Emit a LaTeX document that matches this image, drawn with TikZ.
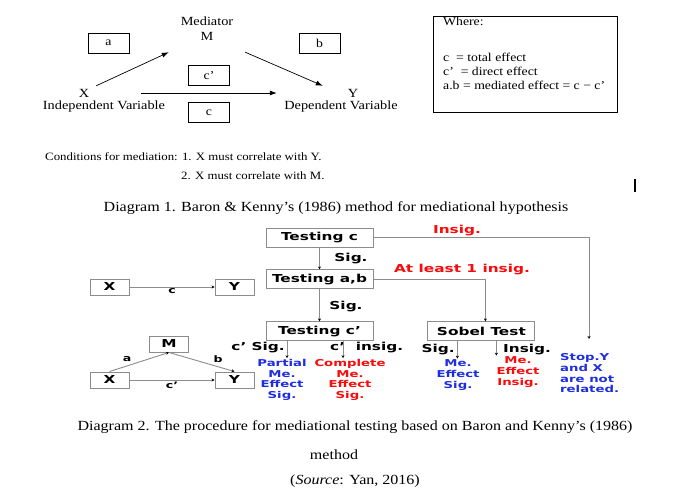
\documentclass[tikz,border=0pt]{standalone}
\usepackage{fontspec}
\setmainfont{Liberation Serif}
\newfontfamily\timesw[FakeStretch=1.15]{Liberation Serif}
\newfontfamily\comic[FakeStretch=1.4]{DejaVu Sans}
\usetikzlibrary{arrows.meta,positioning}
\definecolor{outblue}{RGB}{30,45,225}
\definecolor{outred}{RGB}{250,10,10}

\begin{document}
\begin{tikzpicture}[x=1bp,y=-1bp,
    txt/.style={font=\timesw\fontsize{12.5}{15}\selectfont,inner sep=0pt},
    effbox/.style={draw,line width=0.7bp,minimum width=41bp,minimum height=20bp,inner sep=0pt,
      font=\timesw\fontsize{12}{14}\selectfont},
    arr/.style={line width=0.7bp,-{Latex[length=7bp,width=5bp]}},
    stepbox/.style={draw=black!45,line width=0.9bp,minimum width=107bp,minimum height=19bp,
      inner sep=0pt,font=\comic\bfseries\fontsize{11}{12}\selectfont},
    varbox/.style={draw=black!45,line width=0.9bp,minimum width=39bp,minimum height=16bp,
      inner sep=0pt,font=\comic\bfseries\fontsize{11}{12}\selectfont},
    flow/.style={draw=black!45,line width=0.9bp,-{Stealth[length=3bp,width=3bp,black]}},
    dec/.style={font=\comic\bfseries\fontsize{11}{12}\selectfont,inner sep=0pt},
    lab/.style={font=\comic\bfseries\fontsize{9}{10}\selectfont,inner sep=1.5bp},
    outc/.style={font=\comic\bfseries\fontsize{9.5}{10.7}\selectfont,align=center,inner sep=1bp},
    captxt/.style={font=\timesw\fontsize{14}{16}\selectfont,inner sep=0pt}]

\useasboundingbox[fill=white] (0,0) rectangle (678,500);

% Diagram 1
\node[txt,align=center,minimum width=76bp,minimum height=46bp] (med) at (207,29) {Mediator\\M};
\node[txt,minimum width=24bp,minimum height=14bp] (x) at (84,93) {X};
\node[txt] (xlab) at (104,107) {Independent Variable};
\node[txt,minimum width=24bp,minimum height=14bp] (y) at (353,93) {Y};
\node[txt] (ylab) at (341,107) {Dependent Variable};
\node[effbox] (a) at (108.5,43) {a};
\node[effbox] (b) at (319.5,43.5) {b};
\node[effbox] (cp) at (209,75.5) {c’};
\node[effbox] (c) at (209,112.5) {c};
\draw[arr] (x.north east) -- (med.south west);
\draw[arr] (med.south east) -- ([xshift=-18bp]y.north west);
\draw[arr,shorten <=45bp,shorten >=64bp] (x) -- (y);

\node[draw,line width=0.7bp,minimum width=184bp,minimum height=96bp] (where) at (525,64) {};
\node[txt,font=\timesw\fontsize{12}{14}\selectfont,anchor=west] (wherehd) at (443,21) {Where:};
\node[txt,font=\timesw\fontsize{12}{14}\selectfont,anchor=west,align=left] (wherebody) at (443,71)
  {c~~= total effect\\c’~~= direct effect\\a.b = mediated effect = c − c’};

\node[txt,font=\timesw\fontsize{11.2}{13}\selectfont,anchor=west] (cond1) at (45,157)
  {Conditions for mediation: 1. X must correlate with Y.};
\node[txt,font=\timesw\fontsize{11.2}{13}\selectfont,anchor=west] (cond2) at (181,176)
  {2. X must correlate with M.};
\draw[line width=1.8bp] (635,179) -- (635,192);
\node[captxt] (cap1) at (336,208) {Diagram 1. Baron \& Kenny’s (1986) method for mediational hypothesis};

% Diagram 2
\node[stepbox] (testc) at (319.5,237.5) {Testing c};
\node[stepbox] (testab) [below=22bp of testc] {Testing a,b};
\node[stepbox] (testcp) [below=32bp of testab] {Testing c’};
\node[stepbox] (sobel) [right=54bp of testcp] {Sobel Test};

\node[dec] (sig1) at (351,259) {Sig.};
\node[dec] (sig2) at (346,307) {Sig.};
\node[dec,text=outred] (insig1) at (457,231) {Insig.};
\node[dec,text=outred] (insig2) at (462,270) {At least 1 insig.};
\node[dec,anchor=east] (cpsig) at (285,348) {c’ Sig.};
\node[dec,anchor=west] (cpinsig) at (330,348) {c’\ \ insig.};
\node[dec,anchor=east] (sobsig) at (455,350) {Sig.};
\node[dec,anchor=west] (sobinsig) at (503,350) {Insig.};

\node[outc,text=outblue] (partial) at (282,380) {Partial\\Me.\\Effect\\Sig.};
\node[outc,text=outred] (complete) at (350,380) {Complete\\Me.\\Effect\\Sig.};
\node[outc,text=outblue] (mesig) at (458,375) {Me.\\Effect\\Sig.};
\node[outc,text=outred] (meinsig) at (518,372) {Me.\\Effect\\Insig.};
\node[outc,text=outblue,align=left,anchor=west] (stop) at (559,373.5) {Stop.Y\\and X\\are not\\related.};
\coordinate (stoptip) at (589,339);

\draw[flow] (testc) -- (testab);
\draw[flow] (testab) -- (testcp);
\draw[flow] (testc.east) -| (stoptip);
\draw[flow] (testab.east) -| ([xshift=4bp]sobel.north);
\draw[flow] ([xshift=-32.5bp]testcp.south) -- ([xshift=-32.5bp]testcp.south |- partial.north);
\draw[flow] ([xshift=23.5bp]testcp.south) -- ([xshift=23.5bp]testcp.south |- complete.north);
\draw[flow] ([xshift=-24bp]sobel.south) -- ([xshift=-24bp]sobel.south |- mesig.north);
\draw[flow] ([xshift=15bp]sobel.south) -- ([xshift=15bp]sobel.south |- meinsig.north);

% small models
\node[varbox] (x1) at (109.5,287) {X};
\node[varbox] (y1) at (234.5,287) {Y};
\draw[flow] (x1) -- node[lab,below] {c} (y1);
\node[varbox] (m) at (169,344) {M};
\node[varbox] (x2) at (109.5,380) {X};
\node[varbox] (y2) at (234.5,380) {Y};
\draw[flow] (x2.north) -- node[lab,above left,pos=0.4] {a} (m.south);
\draw[flow] (m.south) -- node[lab,above right,pos=0.65] {b} (y2.north);
\draw[flow] (x2) -- node[lab,below] {c’} (y2);

\node[captxt] (cap2) at (355,427) {Diagram 2. The procedure for mediational testing based on Baron and Kenny’s (1986)};
\node[captxt] (cap2b) at (334,455) {method};
\node[captxt] (src) at (355,481) {(\textit{Source}: Yan, 2016)};
\end{tikzpicture}
\end{document}
